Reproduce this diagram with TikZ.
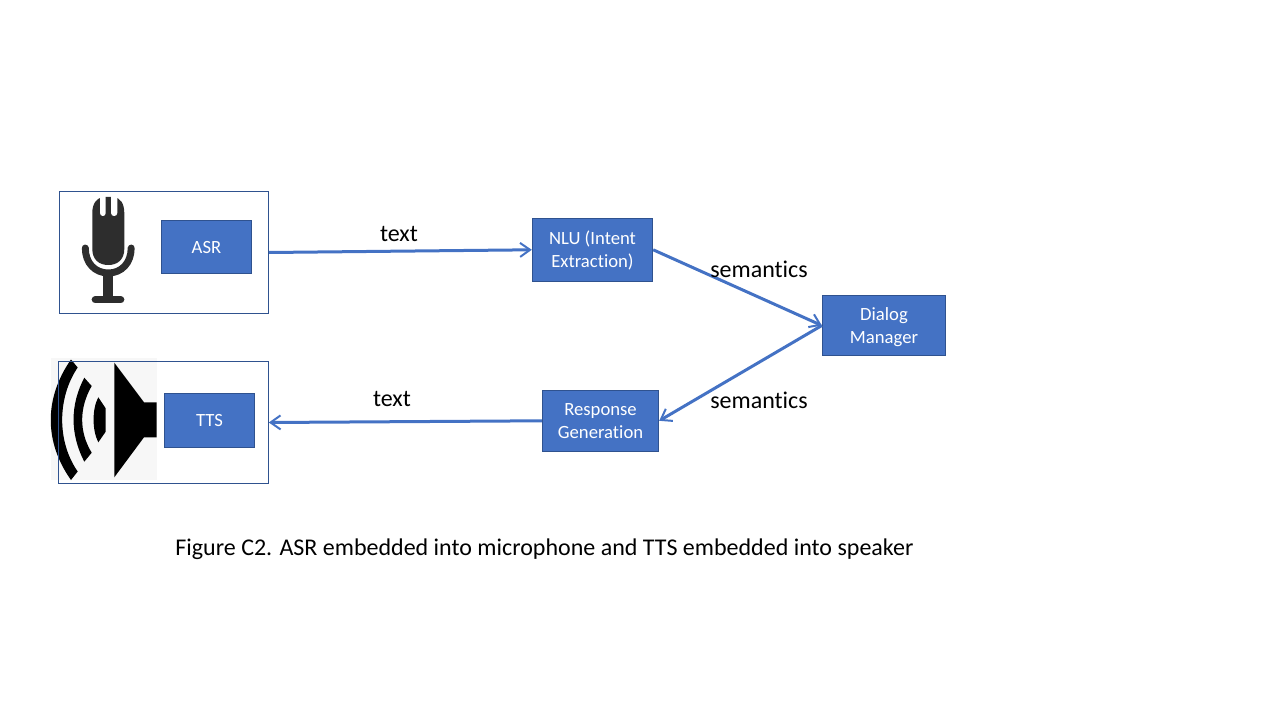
\documentclass[tikz,border=0pt]{standalone}
\usepackage{fontspec}
\setmainfont[RawFeature={-liga;-clig;-calt;-dlig;-ccmp}]{Carlito}
\usetikzlibrary{positioning,arrows.meta}
\definecolor{boxfill}{HTML}{4472C4}
\definecolor{boxline}{HTML}{2F528F}
\definecolor{micdark}{HTML}{2D2D2D}
\definecolor{speakerback}{HTML}{F7F7F7}
\newcommand{\nudge}[2]{\raisebox{-#1}[\height][\depth]{#2}}
\tikzset{
	block/.style={draw=boxline,line width=0.75pt,fill=boxfill,text=white,font=\fontsize{14}{17.25}\selectfont,align=center,inner sep=0pt},
	outerframe/.style={draw=boxline,line width=0.75pt,inner sep=0pt},
	flow/.style={draw=boxfill,line width=2.25pt,->},
	flowlabel/.style={font=\fontsize{18}{22}\selectfont,inner sep=0pt}
}

\begin{document}
\begin{tikzpicture}[x=0.75pt,y=-0.75pt,>={Straight Barb[length=7.5pt,width=10.5pt,line width=1.5pt]}]
	\useasboundingbox (0,0) rectangle (1280,720);

	% the microphone
	\fill[micdark] (92.3,249) -- (92.3,213) .. controls (92.3,203) and (97,198) .. (103,197) -- (114,197) .. controls (120,198) and (124.3,203) .. (124.3,213) -- (124.3,249) .. controls (124.3,260) and (117,265) .. (108.3,265) .. controls (99.5,265) and (92.3,260) .. (92.3,249) -- cycle;
	\fill[white] (100,196) -- (105.7,196) -- (105.7,213) .. controls (105.7,217) and (100,217) .. (100,213) -- cycle;
	\fill[white] (111,196) -- (117.3,196) -- (117.3,213) .. controls (117.3,217) and (111,217) .. (111,213) -- cycle;
	\draw[micdark,line width=5.2pt,line cap=round] (85.3,248) .. controls (85.3,263) and (95,273) .. (108.3,273) .. controls (121.5,273) and (131.2,263) .. (131.2,248);
	\fill[micdark] (103.3,272) rectangle (113.3,298);
	\draw[micdark,line width=5.5pt,line cap=round] (95.3,299.7) -- (120.7,299.7);

	% the speaker
	\fill[speakerback] (51,358.3) rectangle (156.7,480);
	\fill[black] (114.3,362.7) -- (144,402.3) -- (156.7,402.3) -- (156.7,437.3) -- (144,437.3) -- (114.3,477.3) -- cycle;
	\fill[black] (71,359.5) -- (77.7,367.5) .. controls (57,398) and (57,442) .. (77.7,471.5) -- (71,480) .. controls (44,442) and (44,398) .. (71,359.5) -- cycle;
	\fill[black] (84.3,377.7) -- (91.7,386) .. controls (79,408) and (79,432) .. (91.7,452.7) -- (84.3,461.7) .. controls (70,434) and (70,405) .. (84.3,377.7) -- cycle;
	\fill[black] (98.3,397.3) -- (105.7,408.3) -- (105.7,431.7) -- (98.3,442.3) .. controls (92,430) and (92,409) .. (98.3,397.3) -- cycle;

	% the two outer frames and the boxes
	\node[outerframe,minimum width=156.75pt,minimum height=91.5pt] (micframe) at (164,252.5) {};
	\node[outerframe,minimum width=157.5pt,minimum height=91.5pt] (speakerframe) at (163.3,422.5) {};
	\node[block,minimum width=67.8pt,minimum height=40pt] (asr) at (206.5,247) {\nudge{0.75pt}{ASR}};
	\node[block,minimum width=67.8pt,minimum height=40.8pt] (tts) at (209.5,420.5) {TTS};
	\node[block,minimum width=90.3pt,minimum height=47.2pt] (nlu) at (592.5,249.8) {\nudge{0.75pt}{NLU (Intent}\\\nudge{0.75pt}{Extraction)}};
	\node[block,minimum width=92.5pt,minimum height=45.3pt] (dialog) at (884,325.5) {\nudge{1.5pt}{Dialog}\\\nudge{1.5pt}{Manager}};
	\node[block,minimum width=87.3pt,minimum height=45.8pt] (response) at (600.5,420.8) {Response\\Generation};

	% the connectors
	\draw[flow] (micframe.east) -- (nlu.west);
	\draw[flow] (nlu.east) -- (dialog.west);
	\draw[flow] (dialog.west) -- (response.east);
	\draw[flow] (response.west) -- (speakerframe.east);

	% the labels
	\node[flowlabel] (textup) at (399,233.7) {text};
	\node[flowlabel] (textdown) at (392,398.7) {text};
	\node[flowlabel] (semup) at (759,269) {semantics};
	\node[flowlabel] (semdown) at (759,400) {semantics};
	\node[flowlabel] (caption) at (544.5,549) {Figure C2. ASR embedded into microphone and TTS embedded into speaker};

\end{tikzpicture}
\end{document}
